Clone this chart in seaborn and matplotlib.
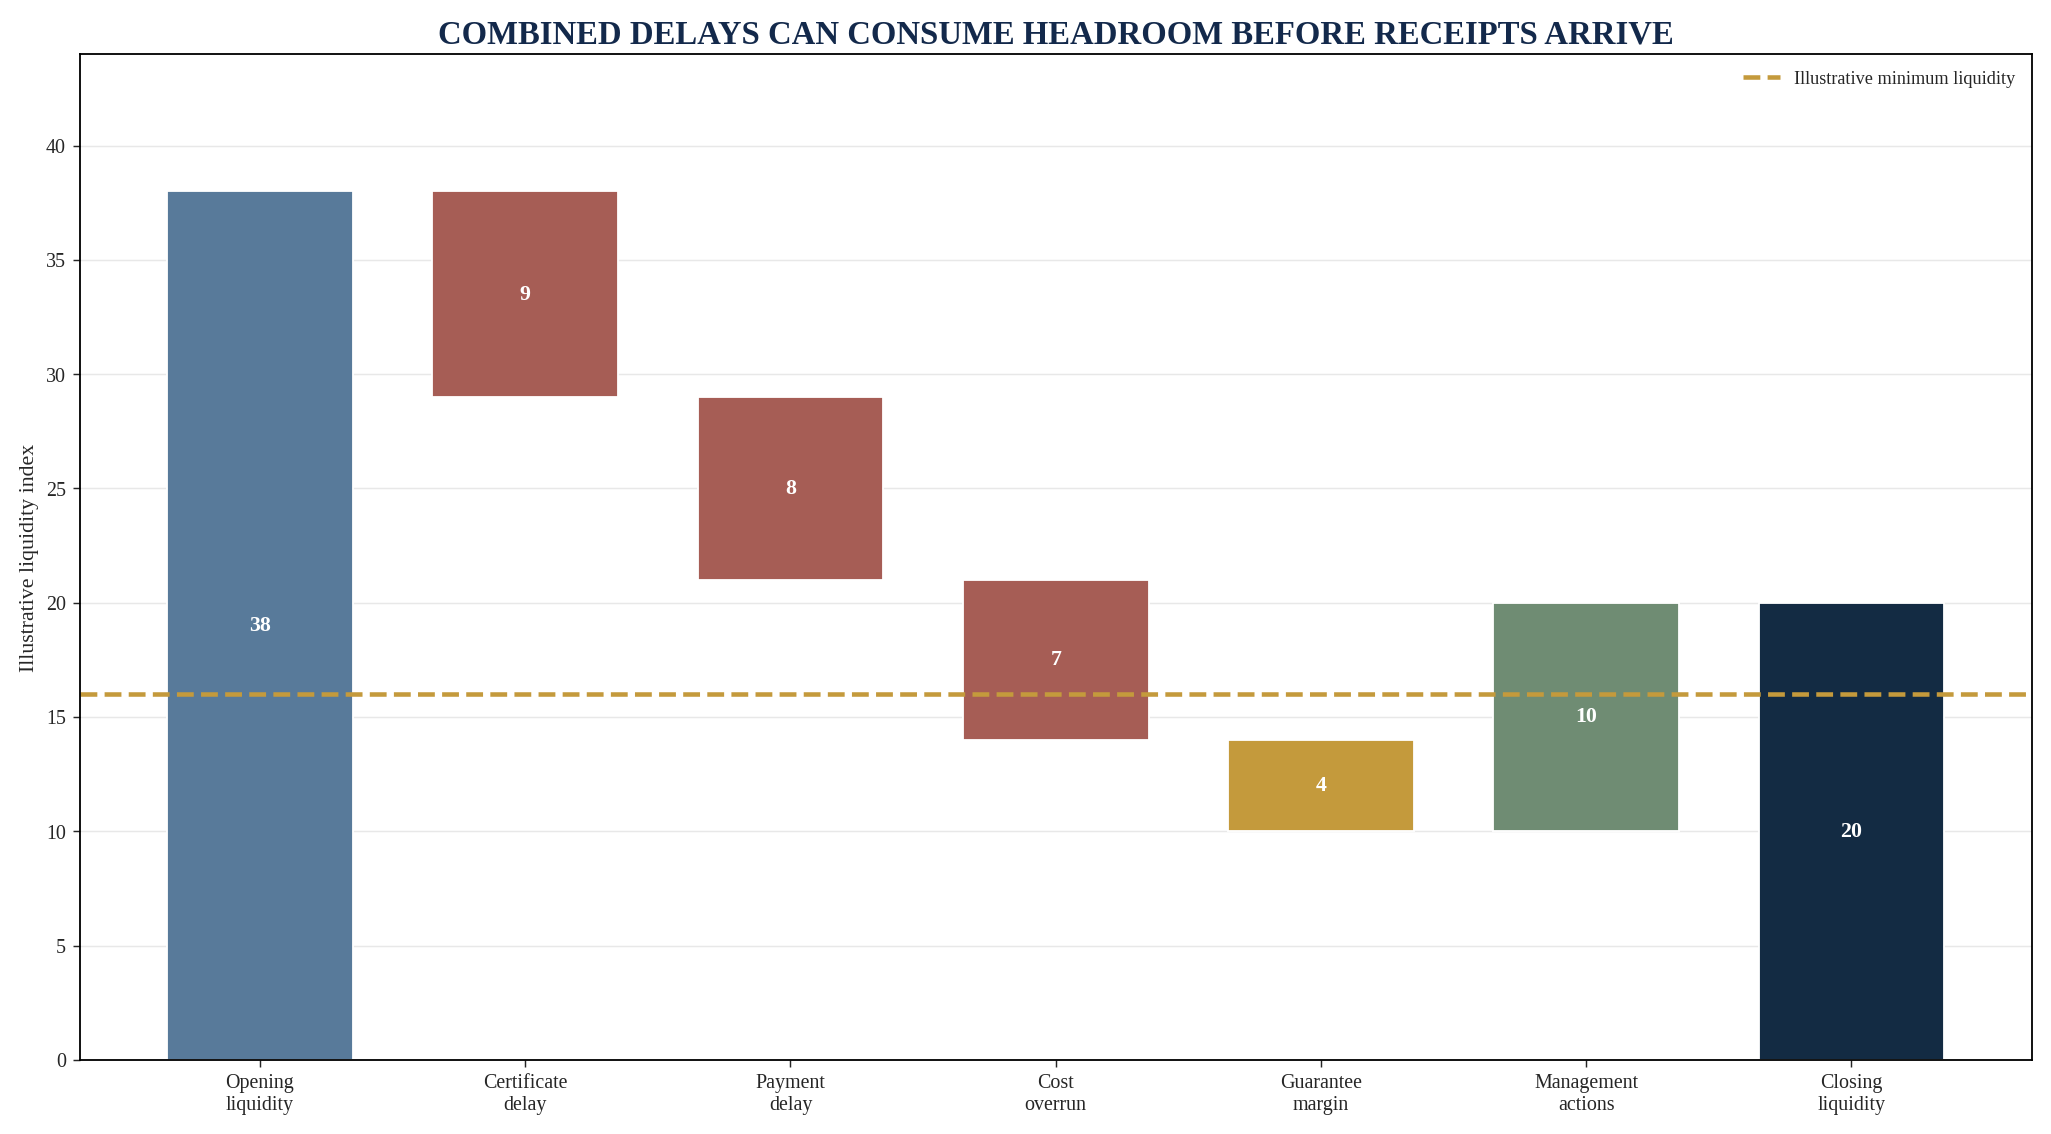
import matplotlib
matplotlib.use("Agg")
import matplotlib.pyplot as plt
import numpy as np
import seaborn as sns

categories = ["Opening\nliquidity", "Certificate\ndelay", "Payment\ndelay", "Cost\noverrun",
              "Guarantee\nmargin", "Management\nactions", "Closing\nliquidity"]
changes = [38, -9, -8, -7, -4, 10, 20]
minimum_liquidity = 16

# waterfall bottoms / heights
bottoms = []
heights = []
level = 0
for i, c in enumerate(changes):
    if i == 0 or i == len(changes) - 1:
        bottoms.append(0)
        heights.append(c)
        level = c
    elif c < 0:
        bottoms.append(level + c)
        heights.append(-c)
        level += c
    else:
        bottoms.append(level)
        heights.append(c)
        level += c

colors = ["#587a9a", "#a65d55", "#a65d55", "#a65d55", "#c49a3c", "#6f8c73", "#132b43"]

sns.set_style("white")
plt.rcParams['font.family'] = ['Liberation Serif', 'DejaVu Serif']

fig = plt.figure(figsize=(15.66, 8.66), dpi=131)
ax = plt.subplot(111)
ax.set_axisbelow(True)
ax.yaxis.grid(True, color="#e8e8e8", linewidth=0.8)

# one call per bar so each gets its own floating bottom
for cat, b, h, col in zip(categories, bottoms, heights, colors):
    sns.barplot(x=[cat], y=[h], bottom=b, order=categories, color=col,
                width=0.7, saturation=1, ax=ax)

for i, (b, h, c) in enumerate(zip(bottoms, heights, changes)):
    ax.text(i, b + h / 2, f"{abs(c)}", ha="center", va="center", color="white",
            fontsize=12, fontweight="bold")

ax.axhline(minimum_liquidity, color="#c49a3c", linestyle="--", linewidth=2.5,
           label="Illustrative minimum liquidity")
ax.legend(loc="upper right", frameon=False, fontsize=10)

ax.set_ylim(0, 44)
ax.set_xlim(-0.68, 6.68)
ax.set_yticks(range(0, 41, 5))
ax.tick_params(axis="both", labelsize=11, length=4, left=True, bottom=True)
ax.set_ylabel("Illustrative liquidity index", fontsize=12)
ax.set_title("COMBINED DELAYS CAN CONSUME HEADROOM BEFORE RECEIPTS ARRIVE",
             fontsize=18, fontweight="bold", color="#13294b")
for s in ax.spines.values():
    s.set_color("black")
    s.set_linewidth(1)

plt.tight_layout()
plt.savefig("out.png", dpi=131)
